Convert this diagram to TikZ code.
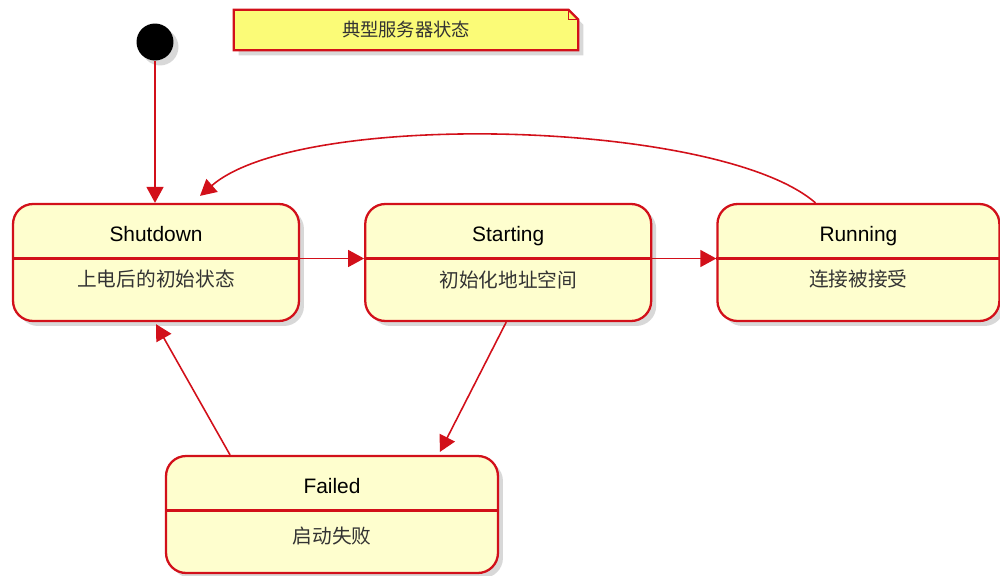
\documentclass[tikz,border=0pt]{standalone}
\usepackage{fontspec}
\setmainfont{Liberation Sans}
\newfontfamily\cjk{Noto Sans CJK SC}
\usepackage{tikz}
\usetikzlibrary{arrows.meta,positioning,shadows,backgrounds}
\definecolor{umlRed}{RGB}{210,16,26}
\definecolor{umlFill}{RGB}{254,254,206}
\definecolor{noteFill}{RGB}{251,251,119}
\definecolor{umlText}{RGB}{51,51,51}

\begin{document}
\begin{tikzpicture}[
  x=0.02cm, y=-0.02cm,
  shd/.style={drop shadow={shadow xshift=0.1cm, shadow yshift=-0.1cm, fill=black!30}},
  state/.style={draw=umlRed, line width=1.3pt, fill=umlFill, rounded corners=0.4cm, minimum height=2.34cm, minimum width=5.72cm, shd},
  ttl/.style={font=\fontsize{11.9}{14}\selectfont, anchor=base},
  dsc/.style={font=\cjk\fontsize{11.2}{14}\selectfont, text=umlText},
  ar/.style={-{Triangle[length=3.2mm, width=3.4mm]}, draw=umlRed, line width=0.9pt}
]
\useasboundingbox (0,0) rectangle (1000,575);

\node[circle, fill=black, minimum size=0.74cm, inner sep=0pt, shd] (init) at (155,42) {};
\node[minimum width=6.88cm, minimum height=0.8cm, font=\cjk\fontsize{10.4}{12}\selectfont, text=umlText] (note) at (406,30) {典型服务器状态};

\node[state] (sd) at (156,262.5) {};
\node[state, right=1.28cm of sd] (st) {};
\node[state, right=1.28cm of st, minimum width=5.64cm] (rn) {};
\node[state, minimum width=6.64cm] (fl) at (332,514.5) {};

\foreach \n/\t/\d/\o in {sd/Shutdown/上电后的初始状态/0.34, st/Starting/初始化地址空间/0.34, rn/Running/连接被接受/0.34, fl/Failed/启动失败/0.44} {
  \draw[draw=umlRed, line width=1.3pt] ([yshift=0.08cm]\n.west) -- ([yshift=0.08cm]\n.east);
  \node[ttl] (\n-t) at ([yshift=0.42cm]\n.center) {\t};
  \node[dsc] (\n-d) at ([yshift=-\o cm]\n.center) {\d};
}

% note with folded corner
\begin{scope}[on background layer]
\draw[draw=umlRed, line width=1.3pt, fill=noteFill, shd] (note.south west) -- (note.north west) -- ([xshift=-0.2cm]note.north east) -- ([yshift=-0.2cm]note.north east) -- (note.south east) -- cycle;
\draw[draw=umlRed, line width=0.9pt] ([xshift=-0.2cm]note.north east) -- ([xshift=-0.2cm, yshift=-0.2cm]note.north east) -- ([yshift=-0.2cm]note.north east);
\end{scope}

\draw[ar] (init.south) -- (init.south |- sd.north);
\draw[ar] ([yshift=0.08cm]sd.east) -- ([yshift=0.08cm]st.west);
\draw[ar] ([yshift=0.08cm]st.east) -- ([yshift=0.08cm]rn.west);
\draw[ar] ([xshift=-0.86cm]rn.north) .. controls +(-95,-83) and +(100,-87) .. ([xshift=0.88cm, yshift=0.14cm]sd.north);
\draw[ar] ([xshift=-0.04cm]st.south) -- ([xshift=2.16cm, yshift=0.06cm]fl.north);
\draw[ar] ([xshift=-2.04cm]fl.north) -- ([yshift=-0.04cm]sd.south);
\end{tikzpicture}
\end{document}
